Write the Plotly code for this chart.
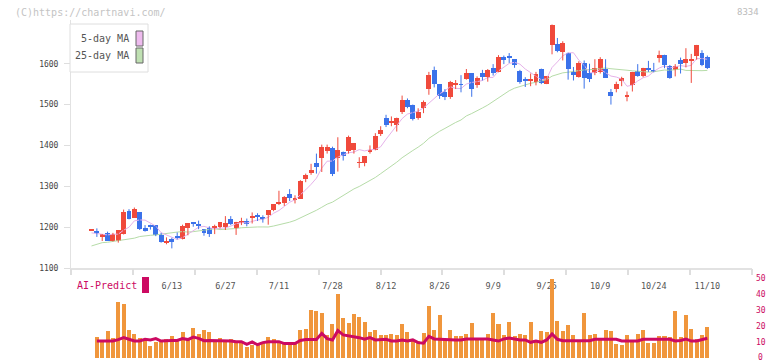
import plotly.graph_objects as go
import pandas as pd

# ---------------- data ----------------
holidays = ['2025-07-21', '2025-08-11', '2025-09-15', '2025-09-23', '2025-10-13', '2025-11-03']
dates = [d for d in pd.bdate_range('2025-05-23', '2025-11-10') if d.strftime('%Y-%m-%d') not in holidays]
cats = [f"{d.month}/{d.day}" for d in dates]

opens = [1192,1190,1176,1186,1167,1167,1184,1240,1223,1236,
         1199,1206,1205,1182,1162,1170,1178,1172,1197,1211,
         1207,1195,1198,1198,1201,1201,1221,1197,1210,1214,
         1223,1228,1225,1229,1241,1259,1259,1280,1267,1270,
         1317,1333,1358,1369,1386,1393,1369,1385,1386,1389,
         1357,1358,1384,1388,1427,1467,1455,1449,1481,1510,
         1500,1467,1491,1538,1585,1550,1530,1518,1548,1550,
         1563,1577,1549,1577,1567,1589,1579,1617,1620,1611,
         1581,1563,1559,1555,1588,1551,1645,1649,1628,1627,
         1580,1567,1602,1578,1578,1580,1588,1530,1537,1557,
         1520,1549,1583,1569,1590,1585,1613,1622,1595,1584,
         1610,1601,1608,1619,1626,1617]
highs = [1193,1197,1183,1189,1186,1193,1243,1244,1248,1236,
         1205,1206,1205,1186,1175,1174,1187,1206,1210,1212,
         1216,1195,1202,1206,1212,1227,1227,1213,1223,1221,
         1236,1234,1229,1241,1256,1289,1276,1293,1278,1315,
         1331,1355,1380,1402,1402,1397,1420,1385,1424,1406,
         1371,1374,1400,1430,1447,1475,1471,1468,1522,1515,
         1500,1491,1510,1580,1593,1550,1538,1558,1560,1572,
         1587,1577,1569,1585,1587,1599,1621,1620,1626,1611,
         1585,1567,1576,1580,1588,1570,1696,1663,1655,1627,
         1592,1606,1608,1600,1611,1616,1611,1538,1556,1568,
         1532,1580,1599,1590,1607,1602,1632,1622,1597,1599,
         1615,1638,1624,1646,1633,1620]
lows = [1191,1176,1166,1167,1165,1162,1182,1219,1223,1193,
        1189,1194,1178,1162,1158,1148,1170,1170,1180,1201,
        1195,1179,1176,1183,1197,1193,1205,1181,1205,1202,
        1209,1215,1211,1206,1239,1254,1252,1264,1258,1269,
        1310,1328,1331,1335,1380,1325,1336,1363,1380,1380,
        1345,1349,1380,1388,1423,1445,1447,1434,1477,1491,
        1461,1463,1479,1524,1542,1514,1511,1514,1538,1530,
        1561,1519,1541,1559,1556,1571,1579,1599,1602,1590,
        1551,1543,1545,1547,1550,1550,1623,1628,1608,1561,
        1559,1566,1539,1555,1572,1576,1566,1500,1530,1545,
        1508,1532,1568,1567,1580,1579,1603,1589,1563,1569,
        1576,1591,1553,1610,1594,1587]
closes = [1193,1187,1183,1167,1184,1193,1236,1219,1245,1195,
          1191,1202,1180,1164,1166,1164,1175,1202,1210,1208,
          1204,1186,1183,1201,1212,1209,1207,1213,1215,1207,
          1228,1225,1220,1241,1256,1262,1274,1272,1271,1313,
          1327,1341,1347,1395,1397,1329,1390,1374,1420,1406,
          1359,1374,1388,1424,1439,1451,1459,1467,1512,1495,
          1465,1481,1506,1573,1550,1522,1518,1556,1552,1548,
          1577,1538,1565,1567,1585,1577,1617,1609,1616,1598,
          1555,1557,1562,1576,1553,1569,1694,1630,1651,1588,
          1572,1602,1566,1562,1589,1612,1566,1520,1550,1564,
          1524,1580,1571,1589,1585,1580,1622,1597,1564,1595,
          1599,1612,1610,1646,1597,1589]

# moving averages: values before enough history
ma5_head = [1186, 1184, 1182, 1181]
ma25_head = [1154,1158,1162,1163,1165,1166,1168,1171,1173,1177,1179,1180,
             1181,1183,1185,1187,1188,1189,1188,1189,1191,1193,1194,1196]

volume = [None,13.1,10.6,16.9,12.5,35.0,34.0,17.5,15.0,12.5,
          10.4,7.5,10.2,11.3,12.1,13.8,11.3,16.3,12.5,18.8,
          15.0,17.5,16.3,10.0,12.5,11.3,12.1,9.4,10.0,6.9,
          7.9,9.4,9.2,13.1,11.9,10.6,9.0,10.2,10.0,17.5,
          18.1,30.0,29.4,28.1,14.4,21.3,40.0,25.0,21.9,27.5,
          25.6,22.5,16.3,17.5,14.4,14.4,15.0,14.4,21.3,16.3,
          11.3,10.6,15.6,32.5,17.5,26.9,11.9,17.5,13.8,13.8,
          15.0,21.9,11.3,12.5,15.0,28.1,21.3,14.4,22.5,13.8,
          15.0,14.4,22.5,10.0,16.9,16.3,49.4,23.1,16.9,20.6,
          14.4,10.6,28.1,14.4,15.0,11.3,17.5,16.9,8.8,8.1,
          14.4,10.0,15.0,17.5,9.4,9.4,13.8,13.8,13.1,29.4,
          13.1,26.9,18.1,11.9,14.4,19.4]
ai_predict = [None,10.6,10.6,10.6,10.6,11.5,12.7,11.7,10.6,10.6,
              11.7,11.3,12.1,10.6,11.0,11.0,11.0,12.1,11.5,13.1,
              12.3,10.8,11.0,11.0,11.0,10.6,10.6,10.2,10.2,8.5,
              10.0,8.3,9.6,10.2,10.2,10.2,9.0,9.0,9.0,11.0,
              11.5,11.5,11.5,15.4,12.1,11.3,17.1,14.4,13.8,13.5,
              12.7,11.7,12.7,11.3,11.7,11.7,10.6,10.6,11.3,10.6,
              11.3,9.6,9.2,13.5,11.9,11.7,11.3,11.3,11.3,11.3,
              11.9,11.9,11.9,11.9,11.9,11.3,10.6,11.9,12.5,11.9,
              11.3,11.3,9.8,10.6,9.8,11.3,15.0,11.7,10.8,10.8,
              10.8,10.8,10.8,10.8,11.7,11.7,11.7,11.7,11.7,10.6,
              10.6,10.6,10.6,11.7,11.7,11.7,11.7,11.7,11.7,10.6,
              11.0,11.9,10.6,10.6,11.5,12.3]

tick_labels = ['6/13', '6/27', '7/11', '7/28', '8/12', '8/26', '9/9', '9/25', '10/9', '10/24', '11/10']
price_ticks = [1100, 1200, 1300, 1400, 1500, 1600]
vol_ticks = [0, 10, 20, 30, 40, 50]

# ---------------- derived ----------------
n = len(closes)
ma5 = ma5_head + [sum(closes[i - 4:i + 1]) / 5 for i in range(4, n)]
ma25 = ma25_head + [sum(closes[i - 24:i + 1]) / 25 for i in range(24, n)]

UP, DOWN = '#f04a3c', '#3b72ea'
MONO = 'DejaVu Sans Mono'
XR = [-3.83, 123.34]

fig = go.Figure()

# MA lines
fig.add_trace(go.Scatter(x=cats, y=ma25, mode='lines', line=dict(color='#b6dca8', width=1),
                         hoverinfo='skip', showlegend=False))
fig.add_trace(go.Scatter(x=cats, y=ma5, mode='lines', line=dict(color='#e6b2ea', width=1),
                         hoverinfo='skip', showlegend=False))

# candles: wicks then bodies
for col, test in ((UP, lambda o, c: c >= o), (DOWN, lambda o, c: c < o)):
    wx, wy = [], []
    bx, bbase, bh = [], [], []
    for i in range(n):
        if test(opens[i], closes[i]):
            wx += [cats[i], cats[i], None]
            wy += [lows[i], highs[i], None]
            bx.append(cats[i])
            bbase.append(min(opens[i], closes[i]))
            bh.append(max(abs(closes[i] - opens[i]), 2))
    fig.add_trace(go.Scatter(x=wx, y=wy, mode='lines', line=dict(color=col, width=1),
                             hoverinfo='skip', showlegend=False))
    fig.add_trace(go.Bar(x=bx, y=bh, base=bbase, marker=dict(color=col, line=dict(width=0)),
                         width=0.92, showlegend=False))

# dummy for tick-mark axis
fig.add_trace(go.Scatter(x=[0], y=[1100], xaxis='x3', yaxis='y', mode='markers',
                         marker=dict(opacity=0), hoverinfo='skip', showlegend=False))

# lower panel
fig.add_trace(go.Bar(x=cats, y=volume, xaxis='x2', yaxis='y2', width=0.75,
                     marker=dict(color='#f0963c', line=dict(width=0)), showlegend=False))
fig.add_trace(go.Scatter(x=cats, y=ai_predict, xaxis='x2', yaxis='y2', mode='lines',
                         line=dict(color='#cc0a62', width=3), showlegend=False))

tick_pos = [XR[0] + k * (XR[1] - XR[0]) / 11 for k in range(12)]

fig.update_layout(
    width=772, height=361,
    margin=dict(l=71, r=20, t=0, b=0, autoexpand=False),
    paper_bgcolor='white', plot_bgcolor='white',
    bargap=0, barmode='overlay',
    font=dict(family=MONO, size=8, color='#444'),
    xaxis=dict(type='category', range=XR, domain=[0, 1], anchor='y', automargin=False,
               tickvals=tick_labels, ticktext=tick_labels, ticks='',
               ticklabelstandoff=9, tickfont=dict(family=MONO, size=8.5, color='#555'),
               showline=True, linecolor='#e2e2e2', linewidth=1.5, showgrid=False, zeroline=False),
    xaxis3=dict(type='linear', range=XR, overlaying='x', anchor='y', side='bottom', automargin=False,
                tickvals=tick_pos, ticks='outside', ticklen=6, tickcolor='#dedede', tickwidth=1.5,
                showticklabels=False, showline=False, showgrid=False, zeroline=False),
    yaxis=dict(domain=[1 - 268 / 361, 1 - 20 / 361], range=[1100, 1707], automargin=False,
               tickvals=price_ticks, ticks='outside', ticklen=6, tickcolor='#dedede',
               ticklabelstandoff=4, tickfont=dict(family=MONO, size=8, color='#444'),
               showline=True, linecolor='#e2e2e2', linewidth=1, showgrid=False, zeroline=False),
    xaxis2=dict(type='category', range=XR, domain=[0, 1], anchor='y2', visible=False, automargin=False),
    yaxis2=dict(domain=[1 - 358 / 361, 1 - 278 / 361], range=[0, 50], anchor='x2', side='right',
                automargin=False, tickvals=vol_ticks, ticks='', ticklabelstandoff=3,
                tickfont=dict(family=MONO, size=8, color='#cc0a62'),
                showline=False, showgrid=False, zeroline=False),
)

def px(x):
    return (x - 71) / 681

def py(y):
    return 1 - y / 361

shapes = [
    dict(type='rect', xref='paper', yref='paper', x0=px(70), x1=px(148), y0=py(72), y1=py(24),
         line=dict(color='#dedede', width=1), fillcolor='white', layer='above'),
    dict(type='rect', xref='paper', yref='paper', x0=px(136), x1=px(143), y0=py(46), y1=py(31),
         line=dict(color='#666', width=1), fillcolor='#eebbee', layer='above'),
    dict(type='rect', xref='paper', yref='paper', x0=px(136), x1=px(143), y0=py(63), y1=py(48),
         line=dict(color='#666', width=1), fillcolor='#bfe0b2', layer='above'),
    dict(type='rect', xref='paper', yref='paper', x0=px(142), x1=px(149), y0=py(293), y1=py(277),
         line=dict(width=0), fillcolor='#cc0a62', layer='above'),
]
annotations = [
    dict(text='5-day MA', xref='paper', yref='paper', x=px(131), y=py(39), xanchor='right',
         yanchor='middle', showarrow=False, font=dict(family=MONO, size=10, color='#555')),
    dict(text='25-day MA', xref='paper', yref='paper', x=px(131), y=py(56), xanchor='right',
         yanchor='middle', showarrow=False, font=dict(family=MONO, size=10, color='#555')),
    dict(text='(C)https://chartnavi.com/', xref='paper', yref='paper', x=px(13), y=py(12),
         xanchor='left', yanchor='middle', showarrow=False,
         font=dict(family=MONO, size=10, color='#c4c4c4')),
    dict(text='8334', xref='paper', yref='paper', x=px(761), y=py(12), xanchor='right',
         yanchor='middle', showarrow=False, font=dict(family=MONO, size=9, color='#bbbbbb')),
    dict(text='AI-Predict', xref='paper', yref='paper', x=px(75), y=py(285), xanchor='left',
         yanchor='middle', showarrow=False, font=dict(family=MONO, size=10, color='#cc0a62')),
    dict(text=str(vol_ticks[0]), xref='paper', yref='paper', x=px(756), y=py(357.5), xanchor='left',
         yanchor='middle', showarrow=False, font=dict(family=MONO, size=8, color='#cc0a62')),
]
fig.update_layout(shapes=shapes, annotations=annotations)
# the 0 label of the lower axis is drawn as annotation (plotly drops it at the page edge)
fig.update_yaxes(tickvals=vol_ticks[1:], selector=dict(anchor='x2'))

fig.write_html('out.html', config={'displayModeBar': False},
               post_script="document.body.style.margin='0';document.body.style.overflow='hidden';")
